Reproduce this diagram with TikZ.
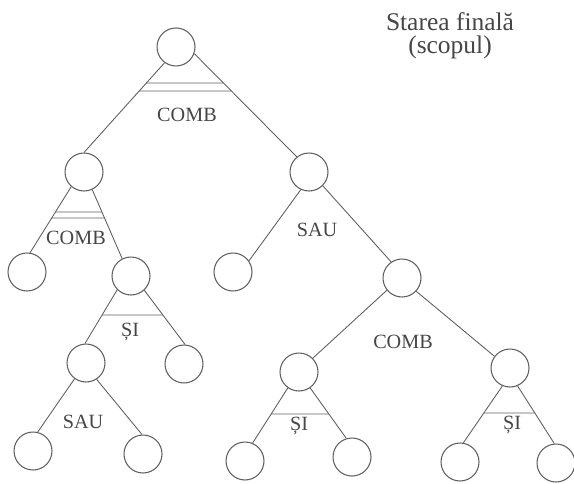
\documentclass[tikz,border=0pt]{standalone}
\usepackage{fontspec}
\setmainfont{Liberation Serif}
\usetikzlibrary{intersections}
\definecolor{ink}{RGB}{95,95,95}
\definecolor{txt}{RGB}{70,70,70}
\newcommand\mybar[3]{%
  \path[name path=hb] (0,#3) -- (574,#3);
  \path[name intersections={of=#1 and hb, by=bl}];
  \path[name intersections={of=#2 and hb, by=br}];
  \draw[edge] (bl) -- (br);}
\tikzset{
  st/.style={circle, draw=ink, line width=0.6pt, minimum size=0.76cm, inner sep=0pt},
  edge/.style={draw=ink, line width=0.5pt},
  lbl/.style={text=txt, font=\fontsize{11.5}{13}\selectfont, inner sep=0pt},
  ttl/.style={text=txt, font=\fontsize{14.5}{13}\selectfont, inner sep=0pt, align=center}
}
\begin{document}
\begin{tikzpicture}[x=0.02cm, y=-0.02cm]
\useasboundingbox (0,0) rectangle (574,483);
% nodes
\node[st] (root) at (176,47) {};
\node[st] (A) at (84,172) {};
\node[st] (B) at (309,172) {};
\node[st] (A1) at (27,272) {};
\node[st] (A2) at (131,276) {};
\node[st] (A21) at (86,363) {};
\node[st] (A22) at (184,364) {};
\node[st] (A211) at (33,451) {};
\node[st] (A212) at (143,454) {};
\node[st] (B1) at (233,272) {};
\node[st] (B2) at (402,278) {};
\node[st] (B21) at (299,372) {};
\node[st] (B22) at (510,368) {};
\node[st] (B211) at (245,461) {};
\node[st] (B212) at (352,457) {};
\node[st] (B221) at (460,462) {};
\node[st] (B222) at (556,463) {};
% edges
\draw[edge, name path=rA] (root.234) -- (A.north);
\draw[edge, name path=rB] (root.-20) -- (B.129);
\draw[edge, name path=AA1] (A.229) -- (A1.81);
\draw[edge, name path=AA2] (A.295) -- (A2.117);
\draw[edge, name path=A2a] (A2.225) -- (A21.93);
\draw[edge, name path=A2b] (A2.313) -- (A22.87);
\draw[edge] (A21.234) -- (A211.76);
\draw[edge] (A21.303) -- (A212.93);
\draw[edge] (B.245) -- (B1.35);
\draw[edge] (B.315) -- (B2.124);
\draw[edge] (B2.219) -- (B21.45);
\draw[edge] (B2.317) -- (B22.143);
\draw[edge, name path=B21a] (B21.235) -- (B211.67);
\draw[edge, name path=B21b] (B21.305) -- (B212.107);
\draw[edge, name path=B22a] (B22.247) -- (B221.80);
\draw[edge, name path=B22b] (B22.293) -- (B222.95);
% bars
\mybar{rA}{rB}{83}
\mybar{rA}{rB}{91}
\mybar{AA1}{AA2}{212}
\mybar{AA1}{AA2}{218}
\mybar{A2a}{A2b}{315}
\mybar{B21a}{B21b}{414}
\mybar{B22a}{B22b}{413}
% labels
\node[lbl] (l1) at (187,115) {COMB};
\node[lbl] (l2) at (76,238) {COMB};
\node[lbl] (l3) at (130,332) {ȘI};
\node[lbl] (l4) at (83,422) {SAU};
\node[lbl] (l5) at (317,230) {SAU};
\node[lbl] (l6) at (403,342) {COMB};
\node[lbl] (l7) at (299,426) {ȘI};
\node[lbl] (l8) at (512,425) {ȘI};
\node[ttl] (title) at (450,36) {Starea finală\\(scopul)};
\end{tikzpicture}
\end{document}
